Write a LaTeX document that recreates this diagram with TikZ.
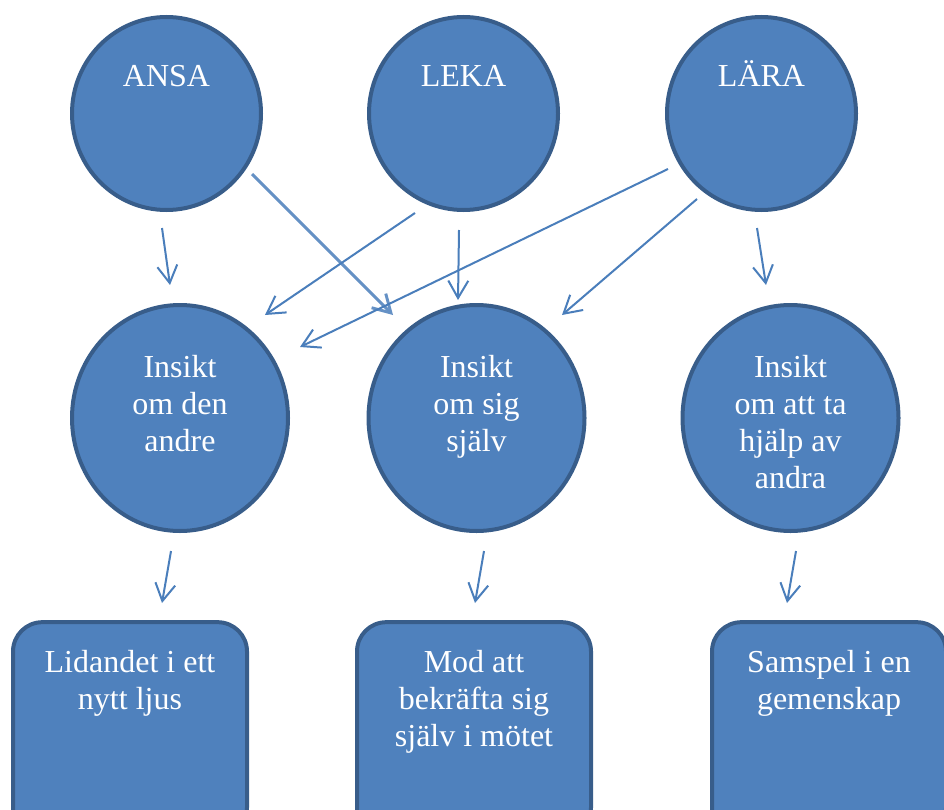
\documentclass[tikz,border=0pt]{standalone}
\usepackage{fontspec}
\setmainfont{Liberation Serif}
\usetikzlibrary{arrows.meta,shapes.geometric}
\definecolor{shapefill}{HTML}{4F81BD}
\definecolor{shapeline}{HTML}{385D8A}
\definecolor{arrowblue}{HTML}{4A7EBB}
\tikzset{
topcirc/.style=
    {ellipse,
    fill=shapefill,
    draw=shapeline,
    line width=3pt,
    minimum width=141.75pt,
    minimum height=144.75pt,
    inner sep=0pt
    },
midcirc/.style=
    {topcirc,
    minimum width=162pt,
    minimum height=169.5pt
    },
endbox/.style=
    {rectangle,rounded corners=22pt,
    fill=shapefill,
    draw=shapeline,
    line width=3pt,
    minimum width=175.5pt,
    minimum height=161pt
    },
txt/.style=
    {text=white,
    font=\fontsize{24}{27.75}\selectfont,
    text width=200pt,
    align=flush center,
    inner sep=0pt,
    anchor=base
    },
arr/.style=
    {draw=arrowblue,
    line width=1.5pt,
    -{Straight Barb[length=13pt,width=15pt]}
    }}

\begin{document}
\begin{tikzpicture}[x=0.75pt,y=-0.75pt]
\clip (0,0) rectangle (944,809);

% top row
\node[topcirc] (ansa) at (166.5,113.5) {};
\node[topcirc] (leka) at (463.5,113.5) {};
\node[topcirc] (lara) at (761.5,113.5) {};
\node[txt] (ansa-t) at ([yshift=-53.5pt]ansa.north) {ANSA};
\node[txt] (leka-t) at ([yshift=-53.5pt]leka.north) {LEKA};
\node[txt] (lara-t) at ([yshift=-53.5pt]lara.north) {LÄRA};

% middle row
\node[midcirc] (andre) at (180,418) {};
\node[midcirc] (sig) at (476.5,418) {};
\node[midcirc] (hjalp) at (790.5,418) {};
\node[txt] (andre-t) at ([yshift=-55.5pt]andre.north) {Insikt\\om den\\andre};
\node[txt] (sig-t) at ([yshift=-55.5pt]sig.north) {Insikt\\om sig\\själv};
\node[txt] (hjalp-t) at ([yshift=-55.5pt]hjalp.north) {Insikt\\om att ta\\hjälp av\\andra};

% bottom row
\node[endbox] (lidande) at (130,729.5) {};
\node[endbox] (mod) at (474,729.5) {};
\node[endbox] (samspel) at (829,729.5) {};
\node[txt] (lidande-t) at ([yshift=-39pt]lidande.north) {Lidandet i ett\\nytt ljus};
\node[txt] (mod-t) at ([yshift=-39pt]mod.north) {Mod att\\bekräfta sig\\själv i mötet};
\node[txt] (samspel-t) at ([yshift=-39pt]samspel.north) {Samspel i en\\gemenskap};

% arrow ends
\coordinate (ansa-o1) at (162,228);
\coordinate (ansa-o2) at (252,174);
\coordinate (leka-o1) at (415,213);
\coordinate (leka-o2) at (459,230);
\coordinate (lara-o1) at (668,169);
\coordinate (lara-o2) at (697,199);
\coordinate (lara-o3) at (757,228);
\coordinate (andre-i1) at (170,285);
\coordinate (andre-i2) at (265,315);
\coordinate (andre-i3) at (300,347);
\coordinate (sig-i1) at (393,315);
\coordinate (sig-i2) at (458,300);
\coordinate (sig-i3) at (562,315);
\coordinate (hjalp-i1) at (766,285);
\coordinate (andre-o) at (171,551);
\coordinate (sig-o) at (484,551);
\coordinate (hjalp-o) at (796,551);
\coordinate (lidande-i) at (162,603);
\coordinate (mod-i) at (475,603);
\coordinate (samspel-i) at (787,603);

\draw[arr] (ansa-o1) -- (andre-i1);
\draw[arr,line width=2.2pt,draw=arrowblue!85!white] (ansa-o2) -- (sig-i1);
\draw[arr] (leka-o1) -- (andre-i2);
\draw[arr] (leka-o2) -- (sig-i2);
\draw[arr] (lara-o1) -- (andre-i3);
\draw[arr] (lara-o2) -- (sig-i3);
\draw[arr] (lara-o3) -- (hjalp-i1);
\draw[arr] (andre-o) -- (lidande-i);
\draw[arr] (sig-o) -- (mod-i);
\draw[arr] (hjalp-o) -- (samspel-i);

\end{tikzpicture}
\end{document}
